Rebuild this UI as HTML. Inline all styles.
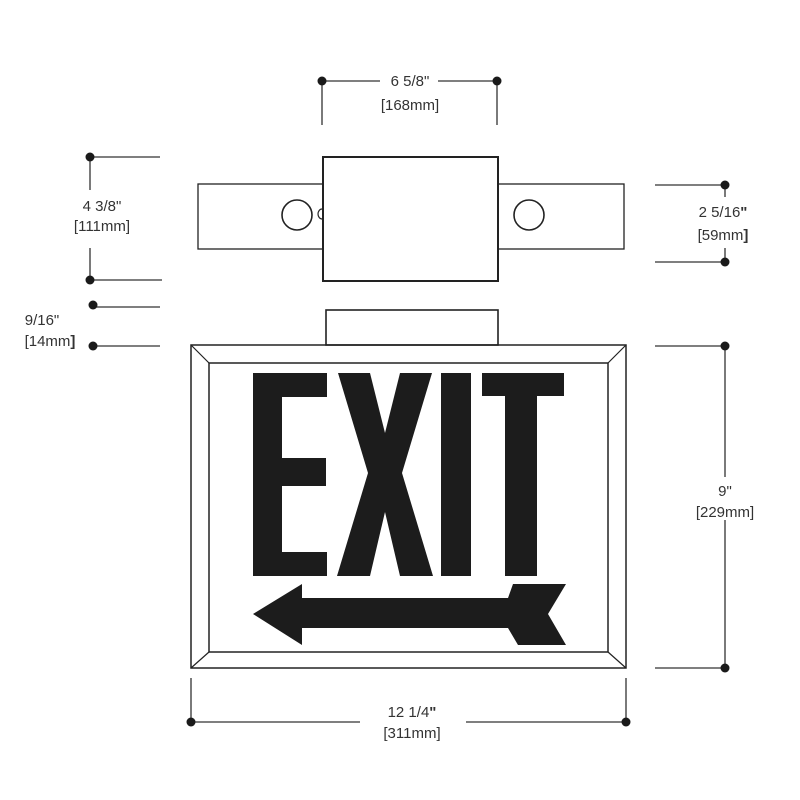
<!DOCTYPE html>
<html><head><meta charset="utf-8"><style>
html,body{margin:0;padding:0;background:#fff;}
svg{display:block;}
text{font-family:"Liberation Sans",sans-serif;font-size:15px;fill:#333;text-anchor:middle;}
</style></head><body>
<svg width="800" height="800" viewBox="0 0 800 800" xmlns="http://www.w3.org/2000/svg">
<g stroke="#222" fill="none" stroke-width="1.6">
<rect x="198" y="184" width="426" height="65" fill="#fff" stroke-width="1.3"/>
<rect x="323" y="157" width="175" height="124" fill="#fff" stroke-width="2"/>
<circle cx="297" cy="215" r="15"/>
<circle cx="529" cy="215" r="15"/>
<path d="M322 209 A4 5 0 0 0 322 219" stroke-width="1.2"/>
<rect x="326" y="310" width="172" height="35" stroke-width="1.6"/>
<rect x="191" y="345" width="435" height="323" stroke-width="1.5"/>
<rect x="209" y="363" width="399" height="289" stroke-width="1.5"/>
<path d="M191 345 L209 363 M626 345 L608 363 M191 668 L209 652 M626 668 L608 652" stroke-width="1.2"/>
</g>
<g fill="#1c1c1c">
<path d="M253 373 H327 V397 H282 V458 H326 V486 H282 V552 H327 V576 H253 Z"/>
<path d="M338 373 H370 L385 433 L400 373 H432 L402 473 L433 576 H400 L385 512 L370 576 H337 L368 473 Z"/>
<rect x="441" y="373" width="30" height="203"/>
<path d="M482 373 H564 V396 H537 V576 H505 V396 H482 Z"/>
<path d="M253 614 L302 584 V598 H508 L513 584 H566 L548 614 L566 645 H518 L508 628 H302 V645 Z"/>
</g>
<g stroke="#333" stroke-width="1.3" fill="none">
<path d="M322 81 V125 M497 81 V125 M322 81 H380 M438 81 H497"/>
<path d="M90 157 H160 M90 157 V190 M90 248 V280 H162"/>
<path d="M93 307 H160 M93 346 H160"/>
<path d="M655 185 H725 V197 M655 262 H725 V248"/>
<path d="M655 346 H725 V477 M725 520 V668 H655"/>
<path d="M191 678 V722 H360 M466 722 H626 V678"/>
</g>
<g fill="#1a1a1a">
<circle cx="322" cy="81" r="4.5"/><circle cx="497" cy="81" r="4.5"/>
<circle cx="90" cy="157" r="4.5"/><circle cx="90" cy="280" r="4.5"/>
<circle cx="93" cy="305" r="4.5"/><circle cx="93" cy="346" r="4.5"/>
<circle cx="725" cy="185" r="4.5"/><circle cx="725" cy="262" r="4.5"/>
<circle cx="725" cy="346" r="4.5"/><circle cx="725" cy="668" r="4.5"/>
<circle cx="191" cy="722" r="4.5"/><circle cx="626" cy="722" r="4.5"/>
</g>
<text x="410" y="86">6 5/8"</text>
<text x="410" y="110">[168mm]</text>
<text x="102" y="211">4 3/8"</text>
<text x="102" y="231">[111mm]</text>
<text x="42" y="325">9/16"</text>
<text x="50" y="346">[14mm<tspan font-weight="bold">]</tspan></text>
<text x="723" y="217">2 5/16<tspan font-weight="bold">"</tspan></text>
<text x="723" y="240">[59mm<tspan font-weight="bold">]</tspan></text>
<text x="725" y="496">9"</text>
<text x="725" y="517">[229mm]</text>
<text x="412" y="717">12 1/4<tspan font-weight="bold">"</tspan></text>
<text x="412" y="738">[311mm]</text>
</svg>
</body></html>
